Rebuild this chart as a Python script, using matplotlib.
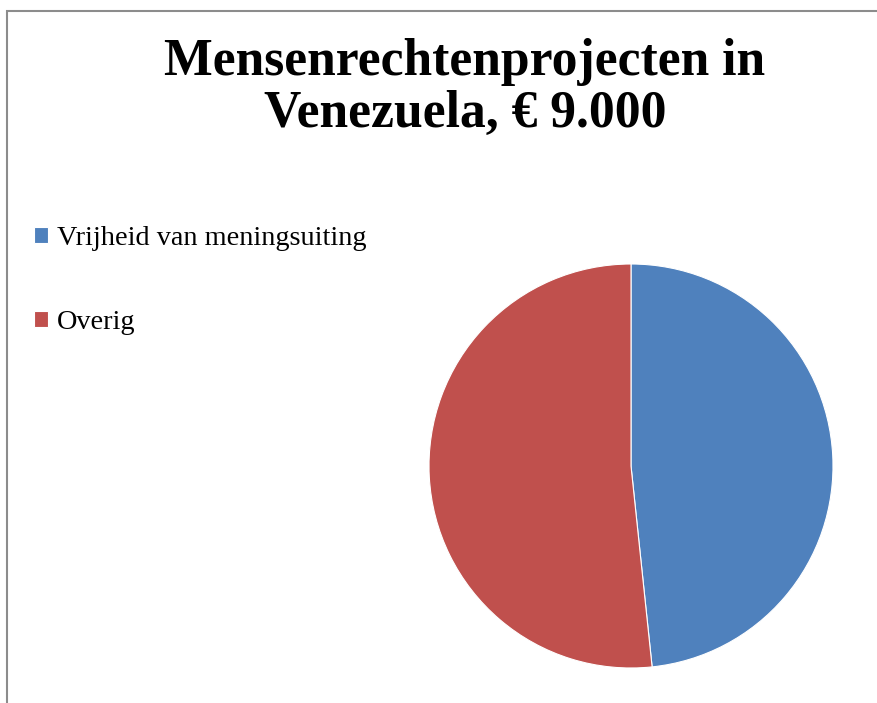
import matplotlib
matplotlib.use("Agg")
import matplotlib.pyplot as plt
from matplotlib.patches import Rectangle

title = "Mensenrechtenprojecten in\nVenezuela, € 9.000"
labels = ["Vrijheid van meningsuiting", "Overig"]
values = [4350, 4650]
colors = ["#4F81BD", "#C0504D"]

W, H = 878, 703
fig = plt.figure(figsize=(W / 100, H / 100), dpi=100)
fig.patch.set_facecolor("white")

# border frame
fig.patches.append(Rectangle((7 / W, -0.1), 1.2, 1 - 11 / H + 0.1,
                             transform=fig.transFigure, fill=False,
                             edgecolor="#8c8c8c", linewidth=1.5))

cx, cy, r = 631, 466, 202
ax = fig.add_axes([(cx - r) / W, (H - cy - r) / H, 2 * r / W, 2 * r / H])
wedges, _ = ax.pie(values, colors=colors, startangle=90, counterclock=False,
                   radius=1, wedgeprops=dict(edgecolor="white", linewidth=0.8))
ax.set_xlim(-1, 1)
ax.set_ylim(-1, 1)
ax.set_aspect("equal")
ax.axis("off")

fig.text(465 / W, 1 - 88 / H, title, ha="center", va="center",
         fontsize=37.2, fontweight="bold", family="Liberation Serif",
         linespacing=1.1)

fig.legend(wedges, labels, loc="upper left", bbox_to_anchor=(34 / W, 1 - 226 / H),
           frameon=False, prop=dict(family="Liberation Serif", size=20.3),
           handlelength=0.5, handleheight=0.5, handletextpad=0.3,
           labelspacing=2.1, borderpad=0, borderaxespad=0)

fig.savefig("out.png", dpi=100)
